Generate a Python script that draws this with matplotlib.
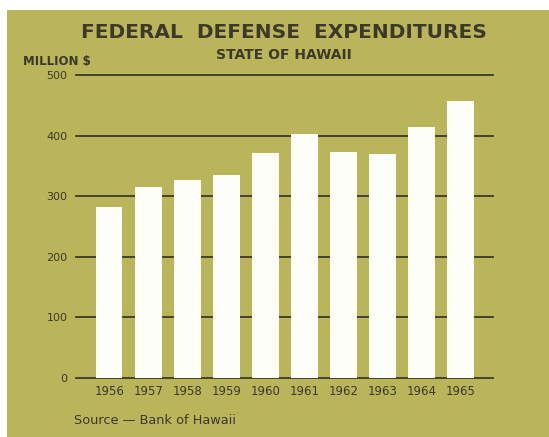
import matplotlib.pyplot as plt
from matplotlib.patches import Rectangle

years = ["1956", "1957", "1958", "1959", "1960", "1961", "1962", "1963", "1964", "1965"]
spending = [282, 315, 327, 335, 371, 403, 373, 370, 415, 457]
yticks = [0, 100, 200, 300, 400, 500]

bg = "#bab45a"
ink = "#3b3a2a"
plt.rcParams["font.family"] = ["DejaVu Sans"]

fig = plt.figure(figsize=(5.49, 4.37), dpi=100)
fig.patch.set_facecolor("white")
# olive panel, leaves a thin white strip at top and left like the scan
fig.add_artist(Rectangle((7 / 549, 0), 1, 1 - 10 / 437, transform=fig.transFigure,
                         facecolor=bg, edgecolor="none", zorder=-10))

ax = fig.add_axes([76 / 549, 1 - 378 / 437, (493 - 76) / 549, (378 - 75) / 437])
ax.set_facecolor("none")

x = range(len(years))
ax.bar(x, spending, width=0.68, color="#fefef8", zorder=3)

ax.set_xlim(-0.85, 9.83)
ax.set_ylim(0, 500)
ax.set_yticks(yticks)
ax.set_yticklabels([str(t) for t in yticks], fontsize=8, color=ink)
ax.set_xticks(list(x))
ax.set_xticklabels(years, fontsize=8.5, color=ink)
ax.tick_params(axis="y", length=0, pad=6)
ax.tick_params(axis="x", length=0, pad=5)
for t in yticks:
    ax.axhline(t, color=ink, lw=1.3, zorder=1, clip_on=False)
for s in ax.spines.values():
    s.set_visible(False)

fig.text(284 / 549, 1 - 33 / 437, "FEDERAL  DEFENSE  EXPENDITURES", ha="center", va="center",
         fontsize=14.5, fontweight="bold", color=ink)
fig.text(284 / 549, 1 - 55 / 437, "STATE OF HAWAII", ha="center", va="center",
         fontsize=10, fontweight="bold", color=ink)
fig.text(23 / 549, 1 - 62 / 437, "MILLION $", ha="left", va="center",
         fontsize=8.5, fontweight="bold", color=ink)
fig.text(74 / 549, 1 - 420 / 437, "Source \u2014 Bank of Hawaii", ha="left", va="center",
         fontsize=9.3, color=ink)

fig.savefig("out.png", dpi=100)
